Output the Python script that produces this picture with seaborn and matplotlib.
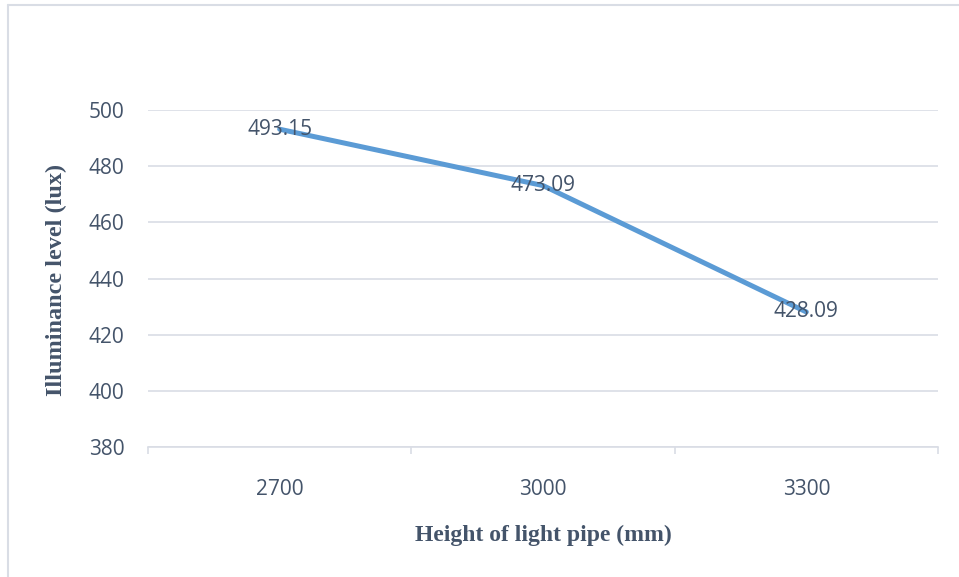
import matplotlib
matplotlib.use("Agg")
import matplotlib.pyplot as plt
import seaborn as sns
import pandas as pd
from matplotlib.ticker import FixedLocator
from matplotlib.lines import Line2D

# Measured illuminance for each light-pipe height
heights = ["2700", "3000", "3300"]
illuminance = [493.15, 473.09, 428.09]
y_ticks = [380, 400, 420, 440, 460, 480, 500]

df = pd.DataFrame({"height": heights, "lux": illuminance})

sns.set_theme(style="white")
plt.rcParams["font.family"] = ["Open Sans", "DejaVu Sans"]

text_color = "#44546a"
grid_color = "#d9dde5"
line_color = "#5b9bd5"

fig = plt.figure(figsize=(9.59, 5.77), dpi=100)
ax = fig.add_axes([148 / 959, 1 - 447 / 577, 790 / 959, 337 / 577])

sns.lineplot(data=df, x="height", y="lux", ax=ax, color=line_color,
             linewidth=3.6, sort=False, solid_capstyle="round")

ax.set_ylim(380, 500)
ax.set_xlim(-0.5, len(heights) - 0.5)
ax.set_yticks(y_ticks)
ax.set_yticklabels([str(v) for v in y_ticks])
ax.grid(axis="y", color=grid_color, linewidth=1.2)
ax.set_axisbelow(True)

for side in ["top", "right", "left"]:
    ax.spines[side].set_visible(False)
ax.spines["bottom"].set_color(grid_color)
ax.spines["bottom"].set_linewidth(1.2)

ax.tick_params(axis="y", length=0, pad=17, labelsize=15, labelcolor=text_color)
ax.tick_params(axis="x", which="major", length=0, pad=23, labelsize=15,
               labelcolor=text_color)
ax.xaxis.set_minor_locator(FixedLocator([i - 0.5 for i in range(len(heights) + 1)]))
ax.tick_params(axis="x", which="minor", bottom=True, length=5, width=1.2,
               color=grid_color)

# Value labels centred on each point
for i, v in enumerate(illuminance):
    ax.text(i, v, f"{v:.2f}", ha="center", va="center", fontsize=15,
            color=text_color, zorder=5)

ax.set_xlabel("Height of light pipe (mm)", family="Liberation Serif",
              fontweight="bold", fontsize=17, color=text_color, labelpad=0)
ax.set_ylabel("Illuminance level (lux)", family="Liberation Serif",
              fontweight="bold", fontsize=17.5, color=text_color, labelpad=0)
ax.xaxis.set_label_coords(0.5, -(525 - 447) / 337)
ax.yaxis.set_label_coords(-(148 - 67) / 790, (447 - 280) / 337)

# Chart frame along the left and top edges
fig.add_artist(Line2D([7.5 / 959, 7.5 / 959], [0, 1 - 5 / 577],
                      transform=fig.transFigure, color=grid_color, linewidth=1.5))
fig.add_artist(Line2D([7.5 / 959, 1], [1 - 5 / 577, 1 - 5 / 577],
                      transform=fig.transFigure, color=grid_color, linewidth=1.5))

fig.savefig("out.png", dpi=100)
